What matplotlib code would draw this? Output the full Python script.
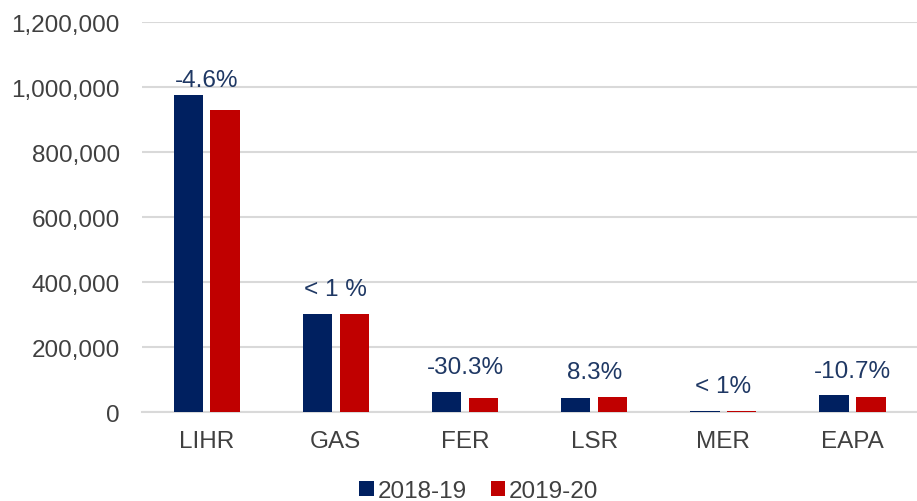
import numpy as np
import matplotlib
matplotlib.use('Agg')
import matplotlib.pyplot as plt
from matplotlib.ticker import FuncFormatter

plt.rcParams['font.family'] = ['Liberation Sans', 'DejaVu Sans']

categories = ['LIHR', 'GAS', 'FER', 'LSR', 'MER', 'EAPA']
fy2018_19 = [975000, 301500, 62000, 44300, 3500, 51400]
fy2019_20 = [930000, 301000, 43200, 48000, 3500, 45900]
changes = ['-4.6%', '< 1 %', '-30.3%', '8.3%', '< 1%', '-10.7%']

blue = '#002060'
red = '#c00000'
text_col = '#404040'
fs = 17.5

fig = plt.figure(figsize=(9.17, 5.02), dpi=100)
ax = fig.add_axes([0.155, 0.177, 0.845, 0.777])

x = np.arange(len(categories))
w = 0.228
off = 0.143
ax.bar(x - off, fy2018_19, w, color=blue, label='2018-19', zorder=3)
ax.bar(x + off, fy2019_20, w, color=red, label='2019-20', zorder=3)

# change labels above each group
for i, lab in enumerate(changes):
    top = max(fy2018_19[i], fy2019_20[i])
    pad = 3 if i == 0 else 10
    ax.annotate(lab, (x[i], top), xytext=(0, pad), textcoords='offset points',
                ha='center', va='bottom', fontsize=fs, color='#1f3864')

ax.set_xlim(-0.5, len(categories) - 0.5)
ax.set_ylim(0, 1200000)
ax.set_yticks(np.arange(0, 1200001, 200000))
ax.yaxis.set_major_formatter(FuncFormatter(lambda v, p: f'{int(v):,}'))
ax.set_xticks(x)
ax.set_xticklabels(categories)

for s in ['top', 'right', 'left']:
    ax.spines[s].set_visible(False)
ax.spines['bottom'].set_color('#d9d9d9')
ax.spines['bottom'].set_linewidth(1.5)
ax.grid(True, axis='y', color='#d9d9d9', linewidth=1.5, zorder=0)
ax.tick_params(axis='both', length=0, labelsize=fs, labelcolor=text_col)
ax.tick_params(axis='y', pad=16)
ax.tick_params(axis='x', pad=13)

fig.legend(loc='center', bbox_to_anchor=(0.522, 0.02), ncol=2, frameon=False,
           fontsize=fs, labelcolor=text_col, handlelength=0.6, handleheight=0.6,
           handletextpad=0.15, columnspacing=1.0)

fig.savefig('out.png', dpi=100)
